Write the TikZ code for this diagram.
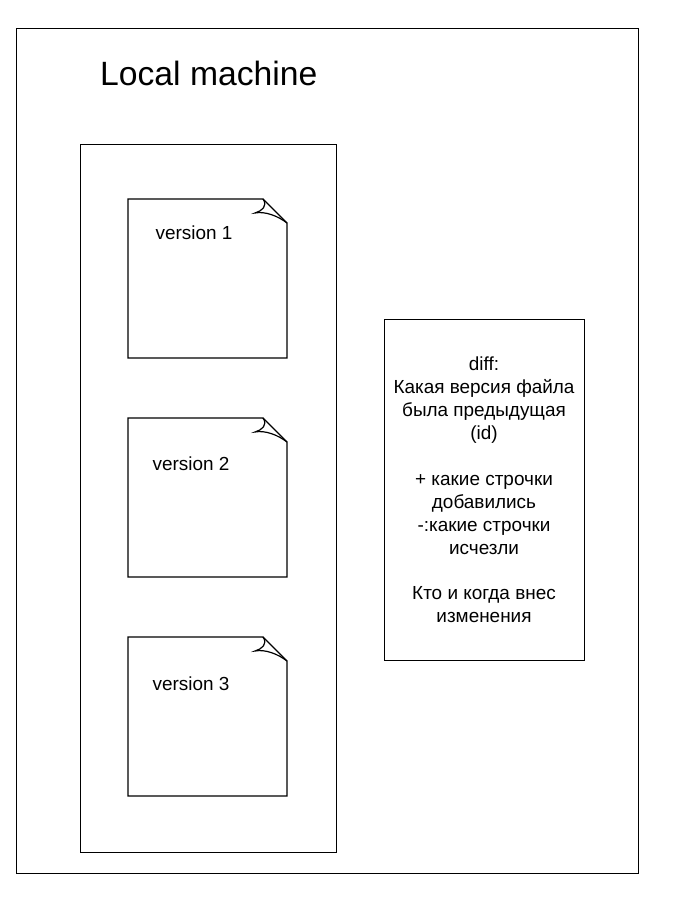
\documentclass[tikz,border=0pt]{standalone}
\usepackage{fontspec}
\setmainfont{Liberation Sans}
\begin{document}
\begin{tikzpicture}[x=1bp,y=-1bp,
  box/.style={draw=black,line width=1.3bp},
  lbl/.style={inner sep=0,font=\fontsize{19}{23}\selectfont},
  note/.pic={
    \draw[box,line join=miter] (0,0) -- (135,0) -- (159,24) -- (159,159) -- (0,159) -- cycle;
    \draw[line width=1.2bp] (135,0) .. controls (140,7) and (134,12) .. (127,14)
       .. controls (137,12) and (150,17) .. (159,24);
  }]
\useasboundingbox (0,0) rectangle (677,903);
\node[box,minimum width=622bp,minimum height=845bp,anchor=north west,inner sep=0] (outer) at (16,28) {};
\node[inner sep=0,anchor=base west,font=\fontsize{33.8}{36}\selectfont] (title) at (100,85) {Local machine};
\node[box,minimum width=256bp,minimum height=708bp,anchor=north west,inner sep=0] (inner) at (80,144) {};
\pic at (128,199) {note};
\pic at (128,418) {note};
\pic at (128,637) {note};
\node[lbl,anchor=base] (v1) at (194,239) {version 1};
\node[lbl,anchor=base] (v2) at (191,470) {version 2};
\node[lbl,anchor=base] (v3) at (191,690) {version 3};
\node[box,minimum width=200bp,minimum height=341bp,anchor=north west,inner sep=0] (diff) at (384,319) {};
\node[lbl,align=center,anchor=center] (difftext) at (484,490) {diff:\\Какая версия файла\\была предыдущая\\(id)\\[23bp]+ какие строчки\\добавились\\-:какие строчки\\исчезли\\[23bp]Кто и когда внес\\изменения};
\end{tikzpicture}
\end{document}
